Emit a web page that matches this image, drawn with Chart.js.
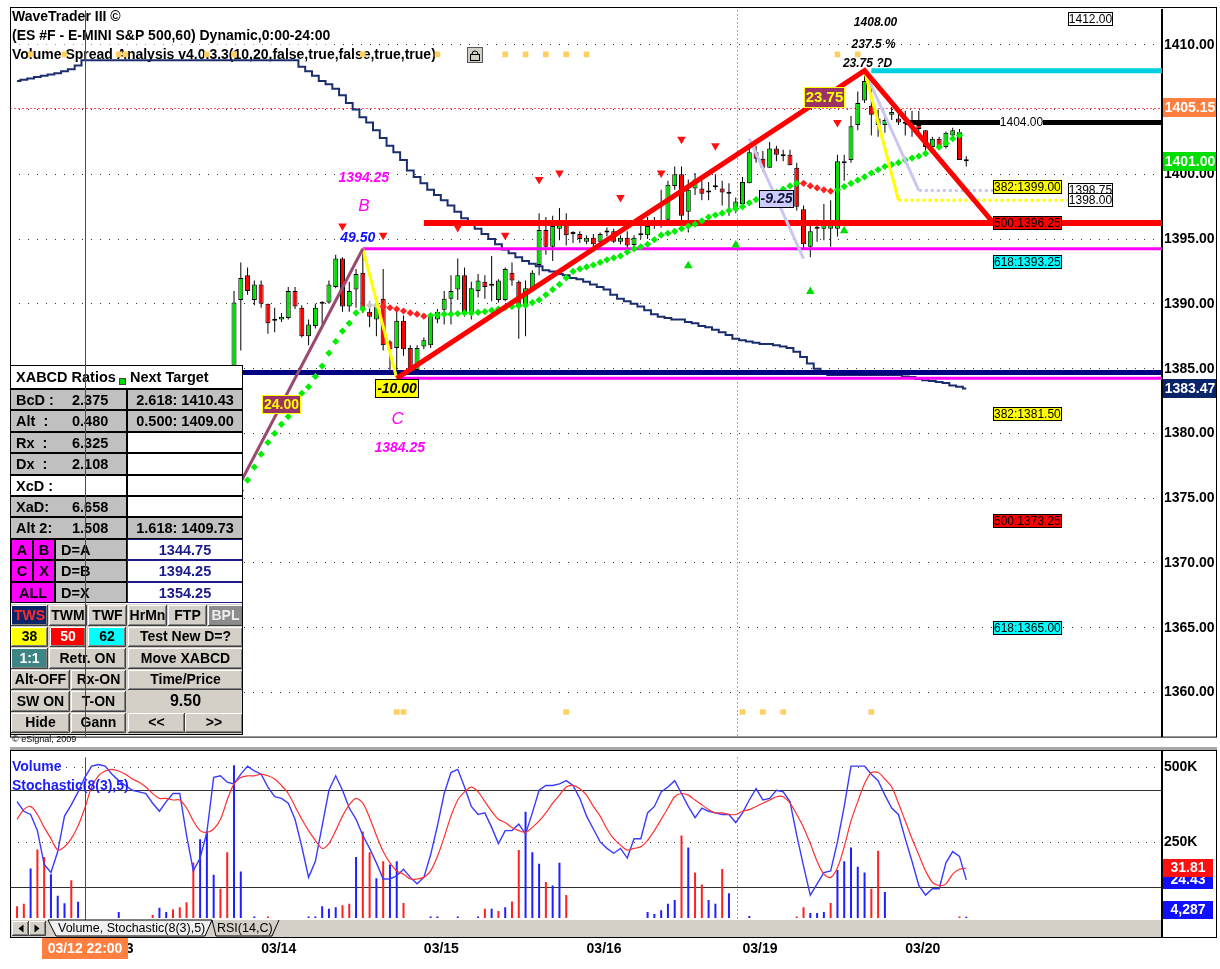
<!DOCTYPE html>
<html>
<head>
<meta charset="utf-8">
<title>WaveTrader III - ES 60 min</title>
<script src="https://cdn.jsdelivr.net/npm/chart.js@4.4.1/dist/chart.umd.min.js"></script>
<style>
  html, body { margin: 0; padding: 0; background: #fff; }
  #wrap { position: relative; width: 1220px; height: 969px; overflow: hidden; background: #fff; }
  #top { position: absolute; left: 0; top: 0; width: 1220px; height: 747px; }
  #bottom { position: absolute; left: 0; top: 747px; width: 1220px; height: 222px; }
</style>
</head>
<body>
<div id="wrap">
  <div id="top"><canvas id="priceChart"></canvas></div>
  <div id="bottom"><canvas id="stochChart"></canvas></div>
</div>
<script>
// hourly bars, bar 0 = 03/13 00:00
const viewMin = -13.04, viewMax = 156.87;
const dayTicks = [0, 24, 48, 72, 95, 119];
const dayLabels = ['03/13', '03/14', '03/15', '03/16', '03/19', '03/20'];
const priceTicks = [1360, 1365, 1370, 1375, 1380, 1385, 1390, 1395, 1400, 1405, 1410];
const volumeTicks = [250000, 500000];
const stochLevels = [20, 80];

// candles (bars 20..128, the earlier ones sit behind the ratio box)
const candleFirst = 20;
const opens = [
  1376.0,1390.3,1392.2,1390.3,1391.5,1390.0,1388.8,1388.8,1388.9,1391.0,
  1389.7,1387.5,1388.3,1390.0,1390.1,1391.3,1393.5,1389.8,1391.1,1392.4,
  1389.4,1388.8,1390.4,1387.1,1386.6,1388.7,1386.6,1384.9,1386.7,1386.8,
  1388.8,1389.55,1390.4,1391.1,1392.2,1389.3,1391.0,1391.7,1391.4,1390.3,
  1390.3,1392.4,1391.7,1389.8,1391.2,1393.0,1395.7,1394.4,1395.8,1396.4,
  1395.5,1395.4,1394.8,1395.1,1394.8,1395.5,1395.6,1394.8,1395.1,1394.55,
  1395.4,1395.3,1396.0,1396.0,1396.5,1399.1,1400.0,1397.1,1398.9,1398.9,
  1398.6,1399.0,1398.9,1398.5,1397.3,1397.7,1399.3,1401.7,1401.2,1400.5,
  1402.0,1401.4,1401.5,1400.5,1397.3,1394.4,1395.8,1395.8,1395.8,1395.8,
  1400.85,1401.1,1403.8,1405.7,1405.3,1403.8,1403.8,1404.6,1404.3,1403.95,
  1403.9,1403.8,1403.4,1402.1,1402.75,1402.1,1403.0,1403.25,1401.1
];
const highs = [
  1391.0,1393.2,1392.8,1391.8,1391.8,1390.0,1389.7,1389.3,1391.3,1391.3,
  1389.9,1388.8,1390.0,1390.2,1391.8,1393.8,1393.6,1391.7,1392.7,1394.25,
  1390.2,1390.2,1392.7,1387.2,1389.4,1389.1,1386.8,1386.8,1387.4,1389.2,
  1389.6,1391.0,1392.2,1393.5,1392.8,1391.7,1392.3,1392.2,1393.7,1391.9,
  1392.8,1393.2,1391.8,1391.8,1392.6,1397.0,1396.7,1396.8,1397.4,1397.0,
  1395.6,1395.6,1395.3,1395.4,1395.5,1395.9,1395.8,1395.3,1395.6,1395.3,
  1396.2,1396.7,1396.7,1398.8,1399.5,1400.6,1400.6,1399.6,1400.1,1399.6,
  1399.4,1400.0,1399.5,1399.3,1398.2,1399.8,1402.1,1402.2,1401.8,1402.5,
  1402.2,1401.9,1401.9,1400.9,1397.6,1396.3,1396.5,1397.7,1398.0,1401.5,
  1401.5,1404.5,1406.4,1408.0,1407.0,1405.0,1404.6,1405.2,1404.9,1404.9,
  1404.9,1404.9,1403.4,1402.9,1402.9,1403.3,1403.6,1403.5,1401.4
];
const lows = [
  1375.5,1386.4,1390.7,1389.9,1389.7,1387.7,1387.8,1388.6,1388.8,1389.6,
  1387.4,1386.8,1388.1,1388.4,1390.0,1391.2,1389.4,1389.4,1389.7,1389.3,
  1388.2,1387.5,1386.4,1384.9,1384.25,1386.0,1384.5,1384.5,1386.5,1386.6,
  1388.5,1388.4,1388.4,1390.3,1389.0,1388.8,1390.5,1390.4,1390.2,1390.1,
  1390.2,1391.4,1387.3,1387.5,1391.1,1392.2,1393.8,1393.3,1394.9,1394.5,
  1394.7,1394.7,1394.6,1394.4,1394.6,1395.2,1394.7,1394.6,1394.3,1394.4,
  1395.0,1395.0,1395.8,1395.9,1396.3,1398.8,1396.3,1395.5,1398.4,1398.0,
  1398.0,1398.8,1397.6,1396.8,1397.0,1397.5,1399.3,1400.9,1400.2,1400.5,
  1401.0,1401.0,1400.7,1397.2,1394.25,1393.6,1394.8,1394.9,1394.4,1395.2,
  1399.5,1400.9,1403.4,1405.5,1403.0,1402.9,1403.2,1404.2,1403.8,1403.0,
  1402.9,1403.0,1401.6,1402.0,1402.0,1402.0,1402.8,1401.1,1400.6
];
const closes = [
  1390.1,1392.0,1391.0,1391.5,1390.0,1388.5,1388.7,1389.0,1391.0,1389.8,
  1387.5,1388.4,1389.7,1390.1,1391.5,1393.5,1389.8,1391.0,1392.3,1389.5,
  1389.0,1389.9,1386.8,1386.5,1388.7,1386.5,1384.9,1386.6,1387.2,1389.0,
  1389.4,1390.4,1391.0,1392.2,1389.2,1391.2,1391.8,1391.3,1391.5,1391.8,
  1392.7,1391.8,1389.8,1391.2,1392.4,1395.7,1394.4,1396.0,1396.2,1395.3,
  1395.4,1395.0,1395.1,1394.6,1395.4,1395.5,1394.8,1395.1,1394.5,1395.1,
  1395.3,1396.0,1396.05,1396.1,1399.2,1400.0,1396.8,1398.8,1399.6,1398.5,
  1398.7,1399.05,1398.6,1398.55,1397.9,1399.4,1401.7,1401.2,1400.5,1402.0,
  1401.5,1401.45,1400.7,1397.5,1394.6,1395.6,1395.85,1396.4,1396.4,1401.0,
  1400.9,1403.7,1405.5,1407.2,1404.6,1404.3,1404.2,1404.8,1404.0,1403.9,
  1403.85,1403.5,1402.1,1402.75,1402.1,1403.2,1403.4,1401.1,1401.0
];

// trailing stop diamonds (bars 21..127), side: 1 long, -1 short, 0 neutral
const stopFirst = 21;
const stopLevel = [
  1375.6,1376.4,1377.4,1378.4,1379.3,1380.0,1380.7,1381.3,1382.3,1383.1,
  1383.6,1384.4,1385.2,1386.2,1387.1,1387.9,1388.5,1389.3,1389.6,1389.9,
  1389.9,1389.8,1389.7,1389.6,1389.45,1389.3,1389.2,1389.05,1389.1,1389.15,
  1389.2,1389.2,1389.25,1389.3,1389.3,1389.35,1389.4,1389.5,1389.6,1389.7,
  1389.8,1389.85,1389.9,1390.1,1390.3,1390.7,1391.1,1391.5,1392.0,1392.5,
  1392.7,1392.85,1393.0,1393.2,1393.4,1393.55,1393.7,1394.0,1394.25,1394.4,
  1394.6,1394.95,1395.3,1395.45,1395.6,1395.8,1396.0,1396.15,1396.4,1396.7,
  1396.85,1397.0,1397.2,1397.35,1397.5,1397.8,1398.05,1398.25,1398.45,1398.6,
  1398.85,1399.1,1399.3,1399.3,1399.1,1398.95,1398.8,1398.7,1398.8,1399.05,
  1399.3,1399.55,1399.8,1400.1,1400.35,1400.6,1400.75,1400.9,1401.1,1401.25,
  1401.4,1401.6,1401.85,1402.1,1402.4,1402.75,1403.0
];
const stopSide = [
  1,1,1,1,1,1,1,1,1,1, 1,1,1,1,1,1,1,1,1,0,
  0,-1,-1,-1,-1,-1,-1,-1,1,1, 1,1,1,1,1,1,1,1,1,1,
  1,1,1,1,1,1,1,1,1,1, 1,1,1,1,1,1,1,1,1,1,
  1,1,1,1,1,1,1,1,1,1, 1,1,1,1,1,1,1,1,1,1,
  1,1,1,-1,-1,-1,-1,-1,1,1, 1,1,1,1,1,1,1,1,1,1,
  1,1,1,1,1,1,1
];

// stepped average line, bars -12..128
const avgFirst = -12;
const avgLine = [
  1407.2,1407.3,1407.4,1407.5,1407.6,1407.7,1407.8,1407.95,1408.1,1408.4,1408.8,
  1408.8,1408.8,1408.8,1408.8,1408.8,1408.8,1408.8,1408.8,1408.8,1408.8,
  1408.8,1408.8,1408.8,1408.8,1408.8,1408.8,1408.8,1408.8,1408.8,1408.8,
  1408.8,1408.8,1408.8,1408.8,1408.8,1408.8,1408.8,1408.8,1408.8,1408.8,1408.8,
  1408.3,1407.95,1407.6,1407.2,1406.95,1406.6,1406.1,1405.5,1405.0,1404.4,
  1404.0,1403.4,1402.8,1402.2,1401.7,1401.1,1400.3,1399.8,1399.3,1398.8,
  1398.4,1398.0,1397.6,1397.1,1396.6,1396.1,1395.8,1395.4,1395.0,1394.6,
  1394.2,1393.9,1393.6,1393.3,1393.1,1392.9,1392.6,1392.5,1392.3,1392.2,
  1392.0,1391.9,1391.7,1391.5,1391.3,1391.1,1390.7,1390.4,1390.2,1390.0,
  1389.8,1389.5,1389.2,1389.0,1388.9,1388.8,1388.8,1388.6,1388.5,1388.3,
  1388.2,1388.0,1387.8,1387.6,1387.3,1387.2,1387.1,1387.0,1386.9,1386.9,
  1386.8,1386.7,1386.6,1386.3,1385.9,1385.4,1385.0,1384.7,1384.5,1384.5,
  1384.5,1384.5,1384.5,1384.5,1384.5,1384.5,1384.5,1384.5,1384.5,1384.4,
  1384.35,1384.2,1384.1,1384.05,1383.97,1383.9,1383.7,1383.6,1383.47
];

// signal arrows
const sellIdx = [36, 42, 53, 60, 65, 68, 77, 83, 86, 91, 109];
const sellPrice = [1396.0, 1395.3, 1395.9, 1395.3, 1399.6, 1400.1, 1398.2, 1400.1, 1402.7, 1402.2, 1404.0];
const buyIdx = [87, 94, 105, 110];
const buyPrice = [1392.95, 1394.55, 1390.95, 1395.65];

// time markers along the top and bottom of the price pane
const markTopIdx = [-10, -5, 3, 4, 16, 20, 39, 50, 60, 63, 66, 69, 72, 109, 112];
const markBottomIdx = [44, 45, 69, 95, 98, 101, 114];
const markTopPrice = 1409.25, markBottomPrice = 1358.5;

// XABCD pattern: A, B, C, D and projected target
const xPoint = 1344.75;
const pivotIdx = [15, 39, 44, 113];
const pivotPrice = [1370.25, 1394.25, 1384.25, 1408.0];
const projIdx = 132, projPrice = 1396.25;
const swingIdx = [96, 104], swingPrice = [1402.75, 1393.5];
const retraceIdx = [118, 121], retracePrice = [1398.0, 1398.75];
const retraceEnd = [143, 132];

// horizontal levels: price and first bar
const levelPrice = [1408.0, 1404.0, 1396.25, 1394.25, 1384.7, 1384.25];
const levelFrom = [114, 119, 48, 39, viewMin, 44];

// target boxes
const fibStart = 132;
const fibLabels = ['382:1399.00', '500:1396.25', '618:1393.25', '382:1381.50', '500:1373.25', '618:1365.00'];
const fibPrices = [1399.0, 1396.25, 1393.25, 1381.5, 1373.25, 1365.0];
const boxStart = 143;
const boxPrices = [1412.0, 1398.75, 1398.0];

// cursor
const crossIdx = -2, crossPrice = 1405.15, crossTime = '03/12 22:00';
const weekendBreak = 94.2;

// lower pane: bars -12..128
const lowFirst = -12;
const volume = [
  39000,47000,164000,227000,202000,145000,74000,49000,125000,54000,0,0,
  0,0,0,20000,0,0,0,0,10000,34000,
  20000,28000,36000,52000,184000,261000,287000,143000,97000,218000,
  506000,154000,0,5000,0,5000,0,0,0,0,
  0,5000,5000,39000,31000,36000,42000,47000,202000,287000,
  218000,132000,188000,177000,188000,50000,0,0,0,5000,
  5000,0,0,5000,0,0,5000,31000,31000,23000,
  36000,55000,225000,352000,218000,180000,119000,108000,183000,76000,
  0,0,0,0,0,0,0,0,0,0,
  0,20000,13000,26000,47000,60000,273000,234000,151000,111000,
  60000,47000,162000,82000,0,0,7000,0,0,0,
  0,0,0,5000,36000,17000,17000,20000,50000,159000,
  188000,234000,170000,151000,97000,223000,86000,0,0,0,
  0,0,0,0,0,0,0,5000,4287
];
const volumeUp = [
  0,0,1,0,0,1,1,1,0,1,1,1,
  1,1,1,1,1,1,1,1,0,1,
  1,0,0,0,0,1,1,1,0,0,
  1,1,1,1,1,0,1,1,1,1,
  1,1,1,1,1,1,0,0,1,0,
  0,1,0,1,1,0,1,1,1,1,
  1,1,1,1,1,1,1,0,1,0,
  1,0,0,1,1,1,0,1,1,0,
  1,1,1,1,1,1,1,1,1,1,
  1,1,1,1,1,1,0,1,0,0,
  1,1,0,1,1,1,1,1,1,1,
  1,1,1,0,0,1,1,1,0,1,
  1,1,1,1,0,0,1,1,1,1,
  1,1,1,1,1,1,1,0,1
];
const stochK = [
  73,67,65,55,34,29,42,64,71,79,88,95,
  96,95,90,86,83,80,79,78,72,67,
  73,78,78,52,30,38,54,88,89,85,
  84,90,95,92,90,82,76,75,72,62,
  45,26,36,58,80,89,80,69,62,52,
  44,35,25,25,27,31,26,22,26,40,
  58,78,91,93,82,70,65,66,57,47,
  55,55,59,53,66,80,83,83,84,86,
  83,75,64,56,48,44,41,44,38,50,
  50,66,70,79,82,86,78,70,63,69,
  67,66,65,65,60,66,74,81,74,75,
  80,79,73,52,33,15,22,29,30,48,
  70,95,95,95,90,86,77,69,65,50,
  36,21,15,19,19,35,42,39,24.43
];
const stochD = [
  62,68,70,65,57,50,43,45,50,58,69,82,
  89,92,93,92,90,87,85,82,78,75,
  75,74,74,69,61,55,54,56,62,74,
  84,88,89,89,90,89,87,83,78,70,
  62,55,49,44,47,55,64,71,75,72,
  63,52,42,35,30,28,25,25,26,30,
  39,51,64,74,79,82,79,73,67,62,
  60,57,55,54,57,61,66,72,77,82,
  83,81,77,70,64,56,50,46,43,44,
  45,49,55,62,69,76,78,77,74,71,
  68,66,66,65,65,67,68,70,72,74,
  76,76,72,65,57,47,36,28,26,32,
  45,61,73,84,91,91,87,82,72,61,
  50,40,30,23,21,22,28,31,31.81
];

// ratio box text
const headerLines = [
  'WaveTrader III \u00a9',
  '(ES #F - E-MINI S&P 500,60) Dynamic,0:00-24:00',
  'Volume Spread Analysis v4.0.3.3(10,20,false,true,false,true,true)'
];
const ratioRows = [
  ['BcD :', '2.375', '2.618: 1410.43'],
  ['Alt  :', '0.480', '0.500: 1409.00'],
  ['Rx  :', '6.325', ''],
  ['Dx  :', '2.108', ''],
  ['XcD :', '', ''],
  ['XaD:', '6.658', ''],
  ['Alt 2:', '1.508', '1.618: 1409.73']
];
const targetRows = [
  [['A', 'B'], 'D=A', '1344.75'],
  [['C', 'X'], 'D=B', '1394.25'],
  [['ALL'], 'D=X', '1354.25']
];

const FONT = 'Arial, "Liberation Sans", sans-serif';
const range = (first, n) => Array.from({length: n}, (_, k) => first + k);

const candleX = range(candleFirst, opens.length);
const stopX = range(stopFirst, stopLevel.length);
const avgX = range(avgFirst, avgLine.length);
const lowX = range(lowFirst, volume.length);

function boxAt(ctx, x, cy, w, h, text, o) {
  const y = Math.round(cy - h / 2);
  x = Math.round(x);
  ctx.fillStyle = o.bg; ctx.fillRect(x, y, w, h);
  if (o.border) { ctx.strokeStyle = o.border; ctx.lineWidth = 1; ctx.strokeRect(x + 0.5, y + 0.5, w - 1, h - 1); }
  ctx.font = o.font; ctx.fillStyle = o.fg; ctx.textBaseline = 'middle';
  ctx.textAlign = o.align || 'center';
  ctx.fillText(text, o.align === 'left' ? x + 1 : x + w / 2, y + h / 2 + 0.5);
}

function button(ctx, x0, x1, y, h, text, bg, fg, flat, font) {
  x0 = Math.round(x0); x1 = Math.round(x1);
  ctx.fillStyle = bg || '#D4D0C8'; ctx.fillRect(x0, y, x1 - x0, h);
  if (!flat) {
    ctx.lineWidth = 1;
    ctx.strokeStyle = '#ffffff';
    ctx.beginPath(); ctx.moveTo(x0 + 0.5, y + h - 1); ctx.lineTo(x0 + 0.5, y + 0.5); ctx.lineTo(x1 - 1, y + 0.5); ctx.stroke();
    ctx.strokeStyle = '#404040';
    ctx.beginPath(); ctx.moveTo(x1 - 0.5, y); ctx.lineTo(x1 - 0.5, y + h - 0.5); ctx.lineTo(x0, y + h - 0.5); ctx.stroke();
    ctx.strokeStyle = '#808080';
    ctx.beginPath(); ctx.moveTo(x1 - 1.5, y + 1); ctx.lineTo(x1 - 1.5, y + h - 1.5); ctx.lineTo(x0 + 1, y + h - 1.5); ctx.stroke();
  }
  ctx.font = font || 'bold 14px ' + FONT; ctx.fillStyle = fg || '#000';
  ctx.textAlign = 'center'; ctx.textBaseline = 'middle';
  ctx.fillText(text, (x0 + x1) / 2, y + h / 2 + 0.5);
}

function drawRatioBox(ctx) {
  const L = 10, R = 243, M = 127, T = 365;
  ctx.save();
  ctx.lineWidth = 1;
  ctx.fillStyle = '#fff'; ctx.fillRect(L, T, R - L, 24);
  ctx.strokeStyle = '#000'; ctx.strokeRect(L + 0.5, T + 0.5, R - L - 1, 23);
  ctx.font = 'bold 14.5px ' + FONT; ctx.textBaseline = 'middle'; ctx.textAlign = 'left';
  ctx.fillStyle = '#000'; ctx.fillText('XABCD Ratios', 16, T + 13);
  ctx.fillStyle = '#00DD00'; ctx.fillRect(119, T + 13, 7, 7);
  ctx.strokeStyle = '#444'; ctx.strokeRect(119.5, T + 13.5, 6, 6);
  ctx.fillStyle = '#000'; ctx.fillText('Next Target', 130, T + 13);

  const rh = 21.4, r0 = 389;
  const rowY = k => Math.round(r0 + rh * k);
  ratioRows.forEach((r, k) => {
    const y = rowY(k), h = rowY(k + 1) - y;
    ctx.fillStyle = r[1] ? '#C0C0C0' : '#fff'; ctx.fillRect(L, y, M - L, h);
    ctx.fillStyle = r[2] ? '#C0C0C0' : '#fff'; ctx.fillRect(M, y, R - M, h);
    ctx.strokeStyle = '#000';
    ctx.strokeRect(L + 0.5, y + 0.5, M - L - 1, h - 1);
    ctx.strokeRect(M + 0.5, y + 0.5, R - M - 1, h - 1);
    ctx.font = 'bold 14.5px ' + FONT; ctx.fillStyle = '#000'; ctx.textBaseline = 'middle';
    ctx.textAlign = 'left';
    ctx.fillText(r[0], 16, y + h / 2 + 1);
    ctx.fillText(r[1], 72, y + h / 2 + 1);
    ctx.textAlign = 'center';
    ctx.fillText(r[2], (M + R) / 2, y + h / 2 + 1);
  });
  targetRows.forEach((r, j) => {
    const k = ratioRows.length + j;
    const y = rowY(k), h = rowY(k + 1) - y;
    const keys = r[0], kw = 44 / keys.length;
    keys.forEach((key, n) => {
      const x0 = Math.round(11 + kw * n), x1 = Math.round(11 + kw * (n + 1));
      ctx.fillStyle = '#FF00FF'; ctx.fillRect(x0, y, x1 - x0, h);
      ctx.strokeStyle = '#000'; ctx.strokeRect(x0 + 0.5, y + 0.5, x1 - x0 - 1, h - 1);
      ctx.font = 'bold 14.5px ' + FONT; ctx.fillStyle = '#000'; ctx.textAlign = 'center'; ctx.textBaseline = 'middle';
      ctx.fillText(key, (x0 + x1) / 2, y + h / 2 + 1);
    });
    ctx.fillStyle = '#C0C0C0'; ctx.fillRect(55, y, M - 55, h);
    ctx.strokeStyle = '#000'; ctx.strokeRect(55.5, y + 0.5, M - 56, h - 1);
    ctx.fillStyle = '#fff'; ctx.fillRect(M, y, R - M, h);
    ctx.strokeStyle = '#1C1C8C'; ctx.strokeRect(M + 0.5, y + 0.5, R - M - 1, h - 1);
    ctx.fillStyle = '#000'; ctx.textAlign = 'left';
    ctx.fillText(r[1], 61, y + h / 2 + 1);
    ctx.fillStyle = '#1A1A8A'; ctx.textAlign = 'center';
    ctx.fillText(r[2], (M + R) / 2, y + h / 2 + 1);
  });

  const b0 = rowY(ratioRows.length + targetRows.length) + 1;
  ctx.fillStyle = '#D4D0C8'; ctx.fillRect(L, b0, R - L, 735 - b0);
  const bh = 21.5;
  const by = k => Math.round(b0 + 1 + bh * k);
  const rows = [
    [[11, 48, 'TWS', '#0A246A', '#FF2A2A'], [49, 87, 'TWM'], [88, 127, 'TWF'], [128, 167, 'HrMn'], [168, 207, 'FTP'], [208, 243, 'BPL', '#8C8C8C', '#EEEEEE']],
    [[11, 48, '38', '#FFFF00', '#000'], [50, 86, '50', '#FF0000', '#FFF'], [88, 126, '62', '#00FFFF', '#000'], [128, 243, 'Test New D=?']],
    [[11, 48, '1:1', '#3E8585', '#FFF'], [49, 126, 'Retr. ON'], [128, 243, 'Move XABCD']],
    [[11, 70, 'Alt-OFF'], [71, 126, 'Rx-ON'], [128, 243, 'Time/Price']],
    [[11, 70, 'SW ON'], [71, 126, 'T-ON'], [128, 243, '9.50', null, '#000', true]],
    [[11, 70, 'Hide'], [71, 126, 'Gann'], [128, 185, '<<'], [185, 243, '>>']]
  ];
  rows.forEach((row, k) => {
    const y = by(k), h = by(k + 1) - y - 1;
    row.forEach(b => button(ctx, b[0], b[1], y, h, b[2], b[3], b[4], b[5], b[5] ? 'bold 16px ' + FONT : null));
  });
  ctx.strokeStyle = '#000'; ctx.lineWidth = 1;
  ctx.strokeRect(L + 0.5, T + 0.5, R - L - 1, 735 - T - 1);
  ctx.restore();
}

// the cursor is a 1px solid red column
function cursorColumn(ctx, x, top, bottom) {
  ctx.fillStyle = '#FF0000';
  ctx.fillRect(Math.round(x), top, 1, bottom - top);
}

const priceDecor = {
  id: 'priceDecor',
  beforeDatasetsDraw(chart) {
    const ctx = chart.ctx, xs = chart.scales.x, ys = chart.scales.y, a = chart.chartArea;
    ctx.save();
    ctx.font = 'bold 14px ' + FONT; ctx.textBaseline = 'middle'; ctx.textAlign = 'left';
    headerLines.forEach((t, k) => {
      const y = 17.5 + 19 * k;
      ctx.fillStyle = '#fff'; ctx.fillRect(11, y - 8, ctx.measureText(t).width + 2, 16);
      ctx.fillStyle = '#000'; ctx.fillText(t, 12, y);
    });
    // lock icon
    ctx.lineWidth = 1;
    ctx.fillStyle = '#D4D0C8'; ctx.fillRect(467, 47, 16, 16);
    ctx.strokeStyle = '#555'; ctx.strokeRect(467.5, 47.5, 15, 15);
    ctx.strokeStyle = '#000'; ctx.strokeRect(470.5, 54.5, 9, 6);
    ctx.beginPath(); ctx.arc(475, 54, 3, Math.PI, 0); ctx.stroke();
    // horizontal cursor line
    const cy = Math.round(ys.getPixelForValue(crossPrice)) + 0.5;
    ctx.strokeStyle = '#FF5A5A'; ctx.setLineDash([2, 2]);
    ctx.beginPath(); ctx.moveTo(a.left, cy); ctx.lineTo(a.right, cy); ctx.stroke();
    // weekend break
    const wx = Math.round(xs.getPixelForValue(weekendBreak)) + 0.5;
    ctx.strokeStyle = '#555'; ctx.setLineDash([1, 3]);
    ctx.beginPath(); ctx.moveTo(wx, a.top); ctx.lineTo(wx, a.bottom); ctx.stroke();
    ctx.setLineDash([]);
    ctx.restore();
  },
  afterDatasetsDraw(chart) {
    const ctx = chart.ctx, xs = chart.scales.x, ys = chart.scales.y, a = chart.chartArea;
    const X = v => xs.getPixelForValue(v), Y = v => ys.getPixelForValue(v);
    ctx.save();
    ctx.setLineDash([]);
    const fibFill = ['#FFFF00', '#FF0000', '#00FFFF'];
    fibPrices.forEach((p, k) => boxAt(ctx, X(fibStart), Y(p), 69, 14, fibLabels[k],
      {bg: fibFill[k % 3], fg: '#000', border: '#000', font: '12px ' + FONT, align: 'left'}));
    boxPrices.forEach(p => boxAt(ctx, X(boxStart), Y(p), 45, 14, p.toFixed(2),
      {bg: '#fff', fg: '#000', border: '#000', font: '12px ' + FONT}));
    boxAt(ctx, X(133), Y(levelPrice[1]), 43, 13, levelPrice[1].toFixed(2), {bg: '#fff', fg: '#000', font: '12px ' + FONT});

    const [iA, iB, iC, iD] = pivotIdx, [pA, pB, pC, pD] = pivotPrice;
    ctx.textAlign = 'center'; ctx.textBaseline = 'middle';
    const bx = X(iB), by = Y(pB), cx = X(iC), cy = Y(pC), dx = X(iD), dy = Y(pD);
    ctx.fillStyle = '#FF00FF';
    ctx.font = 'bold italic 14px ' + FONT; ctx.fillText(pB.toFixed(2), bx + 1, by - 71);
    ctx.font = 'italic 17px ' + FONT; ctx.fillText('B', bx + 1, by - 43);
    ctx.fillStyle = '#1010FF'; ctx.font = 'bold italic 14px ' + FONT;
    ctx.fillText((pB - xPoint).toFixed(2), bx - 5, by - 11);
    ctx.fillStyle = '#FF00FF';
    ctx.font = 'italic 17px ' + FONT; ctx.fillText('C', cx + 1, cy + 41);
    ctx.font = 'bold italic 14px ' + FONT; ctx.fillText(pC.toFixed(2), cx + 3, cy + 70);
    boxAt(ctx, cx - 22, cy + 10, 44, 19, (pC - pB).toFixed(2), {bg: '#FFFF00', fg: '#000', border: '#000', font: 'bold italic 14px ' + FONT});
    const midAB = (iA + iB) / 2, midABp = (pA + pB) / 2;
    boxAt(ctx, X(midAB) - 19, Y(midABp), 39, 19, (pB - pA).toFixed(2), {bg: '#993366', fg: '#FFFF00', border: '#FFFF00', font: 'bold 14px ' + FONT});
    const iCD = 107, pCD = pC + (iCD - iC) * (pD - pC) / (iD - iC);
    boxAt(ctx, X(iCD) - 20, Y(pCD), 41, 21, (pD - pC).toFixed(2), {bg: '#993366', fg: '#FFFF00', border: '#FFFF00', font: 'bold 15px ' + FONT});
    const mS = (swingIdx[0] + swingIdx[1]) / 2, mSp = (swingPrice[0] + swingPrice[1]) / 2;
    boxAt(ctx, X(mS) - 17, Y(mSp), 35, 18, (swingPrice[1] - swingPrice[0]).toFixed(2), {bg: '#CCCCFF', fg: '#111133', border: '#000', font: 'bold italic 14px ' + FONT});
    ctx.fillStyle = '#000'; ctx.textAlign = 'center';
    ctx.font = 'bold italic 12px ' + FONT;
    ctx.fillText(pD.toFixed(2), dx + 11, dy - 48);
    ctx.fillText((100 * (pD - pC) / (pB - pC)).toFixed(1) + ' %', dx + 9, dy - 26);
    ctx.fillText((pD - pC).toFixed(2) + ' ?D', dx + 3, dy - 7);

    ctx.fillStyle = '#000'; ctx.font = '9px ' + FONT; ctx.textAlign = 'left';
    ctx.fillText('\u00a9 eSignal, 2009', 12, 740);

    drawRatioBox(ctx);

    // vertical cursor
    cursorColumn(ctx, X(crossIdx), a.top, a.bottom);

    // right axis tags
    const tagOpt = bg => ({bg, fg: '#fff', font: 'bold 14px ' + FONT});
    boxAt(ctx, a.right + 1, Y(crossPrice), 54, 19, crossPrice.toFixed(2), tagOpt('#FF7F40'));
    const last = closes[closes.length - 1];
    boxAt(ctx, a.right + 1, Y(last), 54, 19, last.toFixed(2), tagOpt('#00DD00'));
    const lastAvg = avgLine[avgLine.length - 1];
    boxAt(ctx, a.right + 1, Y(lastAvg), 54, 19, lastAvg.toFixed(2), tagOpt('#0A246A'));

    ctx.strokeStyle = '#000'; ctx.lineWidth = 1;
    ctx.strokeRect(10.5, 7.5, 1206, a.bottom - 7);
    ctx.restore();
  }
};

const hLine = (k, color, width, dash) => ({
  type: 'line',
  data: [{x: levelFrom[k], y: levelPrice[k]}, {x: viewMax, y: levelPrice[k]}],
  borderColor: color, borderWidth: width, borderDash: dash || [], pointRadius: 0, order: 12
});

const priceChart = new Chart(document.getElementById('priceChart'), {
  type: 'bar',
  data: {
    datasets: [
      {
        type: 'bar', label: 'wicks', order: 20, grouped: false, barThickness: 1, inflateAmount: 0,
        data: candleX.map((x, k) => ({x, y: [lows[k], highs[k]]})),
        backgroundColor: '#000'
      },
      {
        type: 'bar', label: 'bodies', order: 19, grouped: false, barThickness: 5, minBarLength: 2, inflateAmount: 0,
        data: candleX.map((x, k) => ({x, y: [opens[k], closes[k]]})),
        backgroundColor: candleX.map((x, k) => closes[k] >= opens[k] ? '#00E000' : '#FF0000'),
        borderColor: '#000', borderWidth: 1, borderSkipped: false
      },
      {
        type: 'line', label: 'average', order: 15, stepped: 'middle',
        data: avgX.map((x, k) => ({x, y: avgLine[k]})),
        borderColor: '#1A2E6E', borderWidth: 2, pointRadius: 0
      },
      hLine(0, '#00D0E0', 5),
      hLine(1, '#000000', 5),
      hLine(2, '#FF0000', 6),
      hLine(3, '#FF00FF', 3),
      hLine(4, '#000080', 5),
      hLine(5, '#FF00FF', 3),
      {
        type: 'line', label: 'stop', order: 10, showLine: false,
        data: stopX.map((x, k) => ({x, y: stopLevel[k]})),
        pointStyle: 'rectRot', pointRadius: 3.6, pointBorderWidth: 0,
        pointBackgroundColor: stopSide.map(s => s > 0 ? '#00EE00' : s < 0 ? '#FF2020' : '#C8C8C8')
      },
      {
        type: 'line', label: 'AB', order: 5,
        data: [{x: pivotIdx[0], y: pivotPrice[0]}, {x: pivotIdx[1], y: pivotPrice[1]}],
        borderColor: '#9A4A6E', borderWidth: 3, pointRadius: 0
      },
      {
        type: 'line', label: 'BC', order: 5,
        data: [{x: pivotIdx[1], y: pivotPrice[1]}, {x: pivotIdx[2], y: pivotPrice[2]}],
        borderColor: '#FFFF00', borderWidth: 3, pointRadius: 0
      },
      {
        type: 'line', label: 'CD', order: 4,
        data: [{x: pivotIdx[2], y: pivotPrice[2]}, {x: pivotIdx[3], y: pivotPrice[3]}, {x: projIdx, y: projPrice}],
        borderColor: '#FF0000', borderWidth: 5, pointRadius: 0
      },
      {
        type: 'line', label: 'swing', order: 6,
        data: [{x: swingIdx[0], y: swingPrice[0]}, {x: swingIdx[1], y: swingPrice[1]}],
        borderColor: '#C8C8F0', borderWidth: 3, pointRadius: 0
      },
      {
        type: 'line', label: 'retrace1', order: 6,
        data: [{x: pivotIdx[3], y: pivotPrice[3]}, {x: retraceIdx[0], y: retracePrice[0]}],
        borderColor: '#FFFF00', borderWidth: 3, pointRadius: 0
      },
      {
        type: 'line', label: 'retrace1 level', order: 6,
        data: [{x: retraceIdx[0], y: retracePrice[0]}, {x: retraceEnd[0], y: retracePrice[0]}],
        borderColor: '#FFFF00', borderWidth: 3, borderDash: [3, 3], pointRadius: 0
      },
      {
        type: 'line', label: 'retrace2', order: 6,
        data: [{x: pivotIdx[3], y: pivotPrice[3]}, {x: retraceIdx[1], y: retracePrice[1]}],
        borderColor: '#C8C8F0', borderWidth: 3, pointRadius: 0
      },
      {
        type: 'line', label: 'retrace2 level', order: 6,
        data: [{x: retraceIdx[1], y: retracePrice[1]}, {x: retraceEnd[1], y: retracePrice[1]}],
        borderColor: '#C8C8F0', borderWidth: 3, borderDash: [3, 3], pointRadius: 0
      },
      {
        type: 'line', label: 'sell', order: 3, showLine: false,
        data: sellIdx.map((x, k) => ({x, y: sellPrice[k]})),
        pointStyle: 'triangle', pointRotation: 180, pointRadius: 5, pointBorderWidth: 0,
        pointBackgroundColor: '#FF1010'
      },
      {
        type: 'line', label: 'buy', order: 3, showLine: false,
        data: buyIdx.map((x, k) => ({x, y: buyPrice[k]})),
        pointStyle: 'triangle', pointRadius: 5, pointBorderWidth: 0,
        pointBackgroundColor: '#00E000'
      },
      {
        type: 'line', label: 'marks', order: 3, showLine: false,
        data: markTopIdx.map(x => ({x, y: markTopPrice})).concat(markBottomIdx.map(x => ({x, y: markBottomPrice}))),
        pointStyle: 'rect', pointRadius: 4, pointBorderWidth: 0,
        pointBackgroundColor: '#FFD060'
      }
    ]
  },
  options: {
    responsive: true, maintainAspectRatio: false, animation: false, events: [],
    layout: {padding: {left: 10, top: 8, right: 0, bottom: 2}},
    plugins: {legend: {display: false}, tooltip: {enabled: false}},
    scales: {
      x: {type: 'linear', min: viewMin, max: viewMax, offset: false, display: false},
      y: {
        type: 'linear', position: 'right', min: 1356.6, max: 1412.65,
        afterFit: s => { s.width = 58; },
        afterBuildTicks: s => { s.ticks = priceTicks.map(v => ({value: v})); },
        grid: {color: '#333', lineWidth: 1, drawTicks: false},
        border: {display: true, color: '#000', width: 2, dash: [1, 8]},
        ticks: {
          padding: 2, color: '#000', font: {family: FONT, size: 14, weight: 'bold'},
          callback: v => Number(v).toFixed(2)
        }
      }
    }
  },
  plugins: [priceDecor]
});

const stochDecor = {
  id: 'stochDecor',
  afterDatasetsDraw(chart) {
    const ctx = chart.ctx, xs = chart.scales.x, a = chart.chartArea;
    ctx.save();
    ctx.font = 'bold 14px ' + FONT; ctx.fillStyle = '#1C1CFF'; ctx.textAlign = 'left'; ctx.textBaseline = 'middle';
    ctx.fillText('Volume', 12, a.top + 10);
    ctx.fillText('Stochastic(8(3),5)', 12, a.top + 29);
    ctx.lineWidth = 1;
    const wx = Math.round(xs.getPixelForValue(weekendBreak)) + 0.5;
    ctx.strokeStyle = '#555'; ctx.setLineDash([1, 3]);
    ctx.beginPath(); ctx.moveTo(wx, a.top); ctx.lineTo(wx, a.bottom); ctx.stroke();
    ctx.setLineDash([]);
    cursorColumn(ctx, xs.getPixelForValue(crossIdx), a.top, a.bottom + 1);
    ctx.restore();
  },
  afterDraw(chart) {
    const ctx = chart.ctx, xs = chart.scales.x, yS = chart.scales.yS, yV = chart.scales.yV, a = chart.chartArea;
    ctx.save();
    ctx.setLineDash([]);
    // pane separator
    ctx.fillStyle = '#A8A8A8'; ctx.fillRect(10, 0, 1207, 3);
    // tab strip
    const t0 = a.bottom + 1, th = 17;
    ctx.fillStyle = '#D4D0C8'; ctx.fillRect(11, t0, a.right - 11, th);
    [[12, 29], [29, 46]].forEach((b, n) => {
      button(ctx, b[0], b[1], t0 + 1, th - 2, '', '#D4D0C8');
      ctx.fillStyle = '#000'; ctx.beginPath();
      const mx = (b[0] + b[1]) / 2, my = t0 + th / 2;
      if (n === 0) { ctx.moveTo(mx + 3, my - 4); ctx.lineTo(mx + 3, my + 4); ctx.lineTo(mx - 2, my); }
      else { ctx.moveTo(mx - 3, my - 4); ctx.lineTo(mx - 3, my + 4); ctx.lineTo(mx + 2, my); }
      ctx.fill();
    });
    ctx.strokeStyle = '#000'; ctx.lineWidth = 1;
    ctx.fillStyle = '#F0F0F0';
    ctx.beginPath(); ctx.moveTo(48, t0); ctx.lineTo(56, t0 + th - 1); ctx.lineTo(205, t0 + th - 1); ctx.lineTo(212, t0); ctx.closePath(); ctx.fill(); ctx.stroke();
    ctx.beginPath(); ctx.moveTo(212, t0); ctx.lineTo(216, t0 + th - 1); ctx.lineTo(272, t0 + th - 1); ctx.lineTo(279, t0); ctx.stroke();
    ctx.font = '12.5px ' + FONT; ctx.fillStyle = '#000'; ctx.textAlign = 'left'; ctx.textBaseline = 'middle';
    ctx.fillText('Volume, Stochastic(8(3),5)', 58, t0 + th / 2);
    ctx.fillText('RSI(14,C)', 217, t0 + th / 2);
    // value tags
    const tag = (v, y, bg) => boxAt(ctx, a.right + 1, y, 50, 18, v, {bg, fg: '#fff', font: 'bold 14px ' + FONT});
    const lastK = stochK[stochK.length - 1], lastD = stochD[stochD.length - 1], lastV = volume[volume.length - 1];
    tag(lastK.toFixed(2), yS.getPixelForValue(lastK), '#1010FF');
    tag(lastD.toFixed(2), yS.getPixelForValue(lastD), '#FF1010');
    tag(lastV.toLocaleString('en-US'), Math.min(yV.getPixelForValue(lastV), a.bottom - 9), '#1010FF');
    // cursor time
    boxAt(ctx, xs.getPixelForValue(crossIdx) - 43, t0 + th + 11, 86, 21, crossTime, {bg: '#FF7F40', fg: '#fff', font: 'bold 14px ' + FONT});
    // frame
    ctx.strokeStyle = '#000'; ctx.lineWidth = 1;
    ctx.strokeRect(10.5, 3.5, 1206, t0 + th - 3);
    ctx.lineWidth = 2;
    ctx.beginPath(); ctx.moveTo(a.right, 3); ctx.lineTo(a.right, t0 + th); ctx.stroke();
    ctx.restore();
  }
};

const stochChart = new Chart(document.getElementById('stochChart'), {
  type: 'bar',
  data: {
    datasets: [
      {
        type: 'line', label: '%K', yAxisID: 'yS', order: 2,
        data: lowX.map((x, k) => ({x, y: stochK[k]})),
        borderColor: '#3A3AFF', borderWidth: 1.4, pointRadius: 0, tension: 0
      },
      {
        type: 'line', label: '%D', yAxisID: 'yS', order: 1,
        data: lowX.map((x, k) => ({x, y: stochD[k]})),
        borderColor: '#FF3030', borderWidth: 1.2, pointRadius: 0, tension: 0.3
      },
      {
        type: 'bar', label: 'Volume', yAxisID: 'yV', order: 3, grouped: false, barThickness: 2, inflateAmount: 0,
        data: lowX.map((x, k) => ({x, y: volume[k] > 0 ? volume[k] : null})),
        backgroundColor: volumeUp.map(u => u ? '#2020FF' : '#FF2020')
      }
    ]
  },
  options: {
    responsive: true, maintainAspectRatio: false, animation: false, events: [],
    layout: {padding: {left: 10, top: 5, right: 0, bottom: 0}},
    plugins: {legend: {display: false}, tooltip: {enabled: false}},
    scales: {
      x: {
        type: 'linear', min: viewMin, max: viewMax, offset: false, position: 'bottom',
        afterFit: s => { s.height = 50; },
        afterBuildTicks: s => { s.ticks = dayTicks.map(v => ({value: v})); },
        grid: {display: false, drawTicks: false},
        border: {display: false},
        ticks: {
          autoSkip: false, maxRotation: 0, align: 'start', padding: 22, color: '#000',
          font: {family: FONT, size: 14, weight: 'bold'},
          callback: v => dayLabels[dayTicks.indexOf(v)]
        }
      },
      yS: {
        type: 'linear', position: 'left', min: 0.2, max: 100.4,
        afterFit: s => { s.width = 0; },
        afterBuildTicks: s => { s.ticks = stochLevels.map(v => ({value: v})); },
        grid: {color: '#303030', lineWidth: 1, drawTicks: false},
        border: {display: false},
        ticks: {display: false}
      },
      yV: {
        type: 'linear', position: 'right', min: -3205, max: 532051,
        afterFit: s => { s.width = 58; },
        afterBuildTicks: s => { s.ticks = volumeTicks.map(v => ({value: v})); },
        grid: {color: '#444', lineWidth: 1, drawTicks: false},
        border: {display: true, color: '#000', width: 2, dash: [1, 7]},
        ticks: {
          padding: 2, color: '#000', font: {family: FONT, size: 14, weight: 'bold'},
          callback: v => (v / 1000) + 'K'
        }
      }
    }
  },
  plugins: [stochDecor]
});
</script>
</body>
</html>
